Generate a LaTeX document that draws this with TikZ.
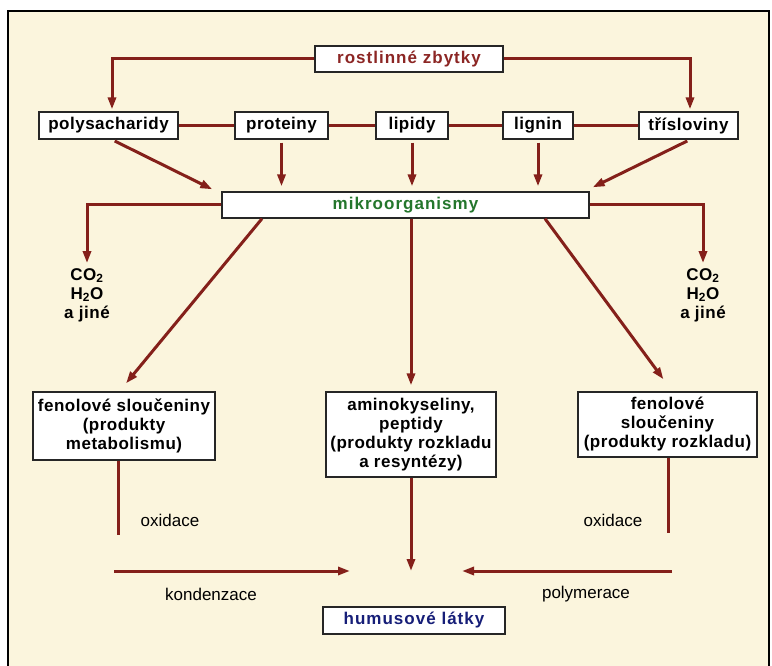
\documentclass[tikz,border=0pt]{standalone}
\usepackage{fontspec}
\setmainfont{Liberation Sans}
\newfontfamily\boxfont[LetterSpace=3]{Liberation Sans}
\newfontfamily\widefont[LetterSpace=6]{Liberation Sans}
\usetikzlibrary{arrows.meta}
\definecolor{paper}{RGB}{251,245,221}
\definecolor{rust}{RGB}{132,32,26}
\definecolor{plantred}{RGB}{140,38,36}
\definecolor{microgreen}{RGB}{36,118,44}
\definecolor{humusblue}{RGB}{22,30,120}

\begin{document}
\begin{tikzpicture}[x=1pt,y=-1pt,
  every node/.style={font=\fontsize{17}{19}\selectfont},
  box/.style={draw=black!85,line width=1.3pt,fill=white,inner sep=3pt,minimum height=27pt,align=center,font=\boxfont\fontsize{17}{19}\selectfont\bfseries},
  note/.style={align=center,inner sep=1pt,font=\boxfont\fontsize{17}{19}\selectfont\bfseries},
  link/.style={draw=rust,line width=3pt},
  arr/.style={link,-{Triangle[length=12pt,width=8pt]}}]
\useasboundingbox (0,0) rectangle (772,666);
\fill[paper] (8,11) rectangle (769,666);
\draw[line width=2.5pt] (8,666) -- (8,11) -- (769,11) -- (769,666);

\node[box,text=plantred,minimum width=188pt,minimum height=26pt] (rz) at (409,59) {\widefont rostlinné zbytky};
\node[box,minimum width=139pt] (ps) at (108.5,125.5) {polysacharidy};
\node[box,minimum width=93pt] (pr) at (281.5,125.5) {proteiny};
\node[box,minimum width=72pt] (li) at (412,125.5) {lipidy};
\node[box,minimum width=70pt] (lg) at (538,125.5) {lignin};
\node[box,minimum width=99pt] (tr) at (688.5,125.5) {třísloviny};
\node[box,text=microgreen,minimum width=367pt,minimum height=26pt] (mo) at (405.5,205) {\widefont mikroorganismy};
\node[note] (cl) at (87,295) {CO\textsubscript{2}\\H\textsubscript{2}O\\a jiné};
\node[note] (cr) at (703,295) {CO\textsubscript{2}\\H\textsubscript{2}O\\a jiné};
\node[box,minimum width=182pt,minimum height=68pt] (f1) at (124,426) {fenolové sloučeniny\\(produkty\\metabolismu)};
\node[box,minimum width=170pt,minimum height=85pt] (am) at (411,434.5) {aminokyseliny,\\peptidy\\(produkty rozkladu\\a resyntézy)};
\node[box,minimum width=179pt,minimum height=65pt] (f2) at (667.5,424.5) {fenolové\\sloučeniny\\(produkty rozkladu)};
\node[box,text=humusblue,minimum width=182pt] (hl) at (414,620.5) {\widefont humusové látky};
\node (ox1) at (170,520) {oxidace};
\node (ox2) at (613,520) {oxidace};
\node (kon) at (211,594) {kondenzace};
\node (pol) at (586,594) {polymerace};
\coordinate (hub) at (411,571);
\coordinate (k1) at (114,571);
\coordinate (p1) at (672,571);
\coordinate (o1) at (118,535);
\coordinate (o2) at (668,533);

\draw[arr,shorten >=2pt] (rz.west) -| ([xshift=3.5pt]ps.north);
\draw[arr,shorten >=2pt] (rz.east) -| ([xshift=1.5pt]tr.north);
\draw[link] (ps) -- (pr);
\draw[link] (pr) -- (li);
\draw[link] (li) -- (lg);
\draw[link] (lg) -- (tr);
\draw[arr,shorten <=3pt] ([xshift=3.5pt]ps.south) -- ([xshift=-9pt,yshift=2pt]mo.north west);
\draw[arr,shorten <=3pt,shorten >=5pt] (pr.south) -- (pr.south |- mo.north);
\draw[arr,shorten <=3pt,shorten >=5pt] (li.south) -- (li.south |- mo.north);
\draw[arr,shorten <=3pt,shorten >=5pt] (lg.south) -- (lg.south |- mo.north);
\draw[arr,shorten <=3pt] ([xshift=1.5pt]tr.south) -- ([xshift=3pt,yshift=4pt]mo.north east);
\draw[arr,shorten >=4pt] (mo.west) -| (cl.north);
\draw[arr,shorten >=4pt] (mo.east) -| (cr.north);
\draw[arr] ([xshift=-143.5pt]mo.south) -- ([xshift=2pt,yshift=8pt]f1.north);
\draw[arr,shorten >=6pt] (mo.south -| am.north) -- (am.north);
\draw[arr] ([xshift=139.5pt]mo.south) -- ([xshift=-4pt,yshift=12pt]f2.north);
\draw[link] (f1.south -| o1) -- (o1);
\draw[link] (f2.south -| o2) -- (o2);
\draw[arr] (am.south) -- (hub);
\draw[arr] (k1) -- ([xshift=-61pt]hub);
\draw[arr] (p1) -- ([xshift=51pt]hub);
\end{tikzpicture}
\end{document}
